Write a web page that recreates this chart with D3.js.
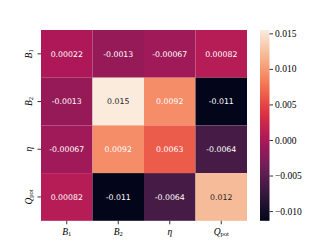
<!DOCTYPE html>
<html>
<head>
<meta charset="utf-8">
<script src="https://cdn.jsdelivr.net/npm/d3@7"></script>
<style>
  body { margin: 0; background: #fff; }
  .tick line { stroke: #000; stroke-width: 0.8; }
  .serif { font-family: "Liberation Serif", "DejaVu Serif", serif; }
</style>
</head>
<body>
<div id="main"></div>
<script>
// variable names: [main symbol, subscript]
const labels = [["B", "1"], ["B", "2"], ["\u03b7", ""], ["Q", "pot"]];
const labelKeys = ["B1", "B2", "eta", "Qpot"];

// correlation / covariance values, one row per variable
const rowB1   = [0.00022, -0.0013, -0.00067, 0.00082];
const rowB2   = [-0.0013, 0.01547, 0.0092, -0.01137];
const rowEta  = [-0.00067, 0.0092, 0.0063, -0.0064];
const rowQpot = [0.00082, -0.01137, -0.0064, 0.0121];
const rows = [rowB1, rowB2, rowEta, rowQpot];

const cbarTicks = [-0.010, -0.005, 0.000, 0.005, 0.010, 0.015];

// rocket colormap control colours
const rocketStops = ["#03051a", "#35193e", "#701f57", "#ad1759", "#e13342", "#f37651", "#f6b48f", "#faebdd"];

const width = 332, height = 249;
const config = {left: 41, right: 247, top: 30, bottom: 220.8};

const svg = d3.select("#main").append("svg")
    .attr("width", width)
    .attr("height", height);

// flatten rows into cells
let cells = [];
rows.forEach((r, i) => r.forEach((v, j) => cells.push({row: labelKeys[i], col: labelKeys[j], value: v})));

const vmin = d3.min(cells, d => d.value);
const vmax = d3.max(cells, d => d.value);

const rocket = d3.scaleLinear()
    .domain(d3.range(rocketStops.length).map(i => i / (rocketStops.length - 1)))
    .range(rocketStops)
    .interpolate(d3.interpolateRgb);
const colScale = v => rocket((v - vmin) / (vmax - vmin));

const xScale = d3.scaleBand().domain(labelKeys).range([config.left, config.right]);
const yScale = d3.scaleBand().domain(labelKeys).range([config.top, config.bottom]);

// relative luminance like seaborn, to pick text colour
function luminance(c) {
  const rgb = d3.rgb(c);
  const lin = [rgb.r, rgb.g, rgb.b].map(x => {
    x = x / 255;
    return x <= 0.03928 ? x / 12.92 : Math.pow((x + 0.055) / 1.055, 2.4);
  });
  return 0.2126 * lin[0] + 0.7152 * lin[1] + 0.0722 * lin[2];
}

const fmt = d3.format(".2g");

svg.append("g").selectAll("rect")
  .data(cells)
  .enter().append("rect")
    .attr("x", d => xScale(d.col))
    .attr("y", d => yScale(d.row))
    .attr("width", xScale.bandwidth())
    .attr("height", yScale.bandwidth())
    .attr("fill", d => colScale(d.value));

svg.append("g").selectAll("text")
  .data(cells)
  .enter().append("text")
    .attr("x", d => xScale(d.col) + xScale.bandwidth() / 2)
    .attr("y", d => yScale(d.row) + yScale.bandwidth() / 2)
    .attr("dy", "0.36em")
    .attr("text-anchor", "middle")
    .style("font-family", "'DejaVu Sans', sans-serif")
    .style("font-size", "7.8px")
    .attr("fill", d => luminance(colScale(d.value)) > 0.408 ? "#262626" : "#ffffff")
    .text(d => fmt(d.value).replace("\u2212", "-"));

// write a label with subscript
function mathLabel(sel, i) {
  const lab = labels[i];
  sel.append("tspan").style("font-style", "italic").text(lab[0]);
  if (lab[1]) {
    sel.append("tspan")
      .attr("dy", "0.25em")
      .style("font-size", "6.5px")
      .style("font-style", lab[1] === "pot" ? "normal" : "normal")
      .text(lab[1]);
  }
}

// x axis
const xAxis = svg.append("g")
    .attr("transform", `translate(0,${config.bottom})`)
    .call(d3.axisBottom(xScale).tickSize(3.5).tickFormat(""));
xAxis.select(".domain").remove();
xAxis.selectAll(".tick").each(function(d, i) {
  const t = d3.select(this).append("text")
      .attr("class", "serif")
      .attr("y", 14)
      .attr("text-anchor", "middle")
      .attr("fill", "#000")
      .style("font-size", "9.5px");
  mathLabel(t, i);
});

// y axis
const yAxis = svg.append("g")
    .attr("transform", `translate(${config.left},0)`)
    .call(d3.axisLeft(yScale).tickSize(3.5).tickFormat(""));
yAxis.select(".domain").remove();
yAxis.selectAll(".tick").each(function(d, i) {
  const t = d3.select(this).append("text")
      .attr("class", "serif")
      .attr("transform", "translate(-9.5,0) rotate(-90)")
      .attr("text-anchor", "middle")
      .attr("fill", "#000")
      .style("font-size", "9.5px");
  mathLabel(t, i);
});

// colorbar
const cbar = {left: 260, width: 9.5};
const cScale = d3.scaleLinear().domain([vmin, vmax]).range([config.bottom, config.top]);

const grad = svg.append("defs").append("linearGradient")
    .attr("id", "cgrad")
    .attr("x1", 0).attr("y1", 1).attr("x2", 0).attr("y2", 0);
d3.range(0, 1.0001, 0.05).forEach(t => {
  grad.append("stop").attr("offset", t).attr("stop-color", rocket(t));
});

svg.append("rect")
    .attr("x", cbar.left)
    .attr("y", config.top)
    .attr("width", cbar.width)
    .attr("height", config.bottom - config.top)
    .attr("fill", "url(#cgrad)");

const cAxis = svg.append("g")
    .attr("class", "serif")
    .attr("transform", `translate(${cbar.left + cbar.width},0)`)
    .call(d3.axisRight(cScale).tickValues(cbarTicks).tickSize(3.5).tickPadding(2).tickFormat(d3.format(".3f")));
cAxis.select(".domain").remove();
cAxis.selectAll("text")
    .style("font-size", "9.5px")
    .style("font-family", "'Liberation Serif', serif")
    .attr("fill", "#000");
</script>
</body>
</html>
